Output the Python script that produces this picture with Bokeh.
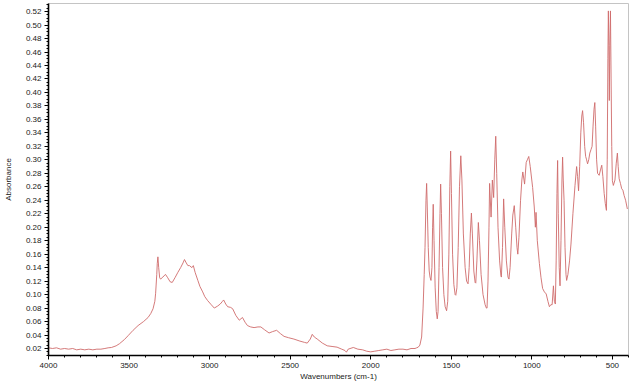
from bokeh.plotting import figure
from bokeh.models import Range1d, SingleIntervalTicker, NumeralTickFormatter, ColumnDataSource
from bokeh.embed import file_html
from bokeh.resources import INLINE

# --- spectrum values (wavenumber cm-1, absorbance) ---
wn_baseline = [4000, 3975, 3950, 3925, 3900, 3875, 3850, 3825, 3800, 3775, 3750, 3725,
               3700, 3675, 3650, 3630, 3609]
ab_baseline = [0.021, 0.020, 0.021, 0.019, 0.020, 0.019, 0.020, 0.018, 0.019, 0.018, 0.019, 0.018,
               0.019, 0.019, 0.020, 0.021, 0.0215]

wn_oh = [3580, 3560, 3530, 3506, 3475, 3444, 3410, 3382, 3365, 3351, 3340, 3335, 3328,
         3325, 3321, 3316, 3310, 3304, 3290, 3274, 3260, 3245, 3232, 3215, 3197, 3180,
         3165, 3156, 3145, 3135, 3125, 3110, 3101, 3090, 3073, 3060, 3043, 3030, 3012,
         2990, 2971, 2950, 2934, 2920, 2913, 2900, 2888, 2870, 2857, 2837, 2816, 2796,
         2780, 2765, 2745, 2724, 2700, 2682, 2660, 2631, 2610, 2584, 2560, 2538, 2510,
         2477, 2440, 2410, 2394, 2375, 2363, 2350, 2332, 2300, 2270, 2240, 2209, 2180,
         2160, 2151, 2140, 2108, 2080]
ab_oh = [0.024, 0.027, 0.033, 0.039, 0.047, 0.054, 0.060, 0.066, 0.072, 0.079, 0.090, 0.102, 0.130,
         0.146, 0.156, 0.140, 0.125, 0.123, 0.126, 0.130, 0.125, 0.119, 0.118, 0.125, 0.133, 0.140,
         0.147, 0.152, 0.147, 0.143, 0.143, 0.140, 0.143, 0.133, 0.121, 0.112, 0.104, 0.097, 0.091,
         0.085, 0.080, 0.083, 0.086, 0.090, 0.092, 0.086, 0.082, 0.081, 0.079, 0.069, 0.062, 0.066,
         0.059, 0.054, 0.052, 0.051, 0.052, 0.052, 0.048, 0.043, 0.045, 0.047, 0.042, 0.038, 0.036,
         0.034, 0.031, 0.029, 0.028, 0.034, 0.041, 0.037, 0.034, 0.028, 0.024, 0.023, 0.022, 0.019,
         0.017, 0.0145, 0.019, 0.0215, 0.019]

wn_gap = [2050, 2025, 2000, 1975, 1950, 1925, 1900, 1875, 1850, 1825, 1800, 1775, 1750,
          1725, 1715, 1705, 1695]
ab_gap = [0.018, 0.016, 0.015, 0.016, 0.017, 0.018, 0.019, 0.017, 0.018, 0.019, 0.019, 0.018, 0.020,
          0.020, 0.021, 0.022, 0.025]

wn_finger = [1684, 1675, 1668, 1663, 1657, 1653, 1649, 1643, 1637, 1632, 1626, 1620, 1616,
             1612, 1607, 1600, 1593, 1587, 1582, 1576, 1570, 1566, 1561, 1554, 1546, 1538,
             1529, 1522, 1515, 1509, 1504, 1499, 1492, 1484, 1476, 1472, 1465, 1457, 1449,
             1441, 1434, 1425, 1414, 1405, 1396, 1389, 1382, 1375, 1369, 1360, 1352, 1348,
             1341, 1332, 1325, 1315, 1303, 1290, 1282, 1278, 1272, 1266, 1262, 1253, 1245,
             1237, 1230, 1224, 1218, 1210, 1200, 1192, 1189, 1182, 1175, 1168, 1158, 1148,
             1142, 1135, 1125, 1118, 1109, 1100, 1092, 1087, 1080, 1070, 1062, 1056, 1045,
             1035, 1028, 1019, 1010, 995, 985, 978, 974, 966, 953, 943, 933, 922, 911, 900,
             891, 882, 874, 866, 860, 854, 849, 844, 840, 836, 830, 825, 819, 813, 809, 805,
             800, 794, 788, 784, 776, 766, 757, 745, 732, 722, 716, 710, 703, 696, 690, 685,
             679, 672, 666, 661, 654, 647, 640, 633, 626, 620, 614, 609, 604, 598, 592, 582,
             574, 566, 559, 551, 544, 537, 532, 528, 525, 522, 519, 516, 512, 508, 504, 500,
             494, 484, 476, 469, 464, 458, 450, 442, 435, 427, 418, 407]
ab_finger = [0.037, 0.080, 0.130, 0.170, 0.240, 0.265, 0.230, 0.170, 0.135, 0.126, 0.121, 0.140, 0.200,
             0.234, 0.180, 0.110, 0.075, 0.064, 0.075, 0.140, 0.220, 0.264, 0.220, 0.140, 0.100, 0.082,
             0.076, 0.090, 0.160, 0.260, 0.313, 0.250, 0.160, 0.115, 0.100, 0.099, 0.110, 0.170, 0.260,
             0.306, 0.270, 0.190, 0.140, 0.120, 0.116, 0.140, 0.190, 0.221, 0.190, 0.135, 0.118, 0.117,
             0.150, 0.207, 0.180, 0.130, 0.100, 0.085, 0.080, 0.080, 0.120, 0.200, 0.265, 0.215, 0.270,
             0.244, 0.300, 0.335, 0.280, 0.200, 0.150, 0.128, 0.126, 0.170, 0.242, 0.200, 0.150, 0.126,
             0.123, 0.140, 0.190, 0.218, 0.232, 0.200, 0.170, 0.160, 0.185, 0.240, 0.270, 0.282, 0.264,
             0.296, 0.300, 0.305, 0.290, 0.259, 0.230, 0.200, 0.222, 0.180, 0.146, 0.125, 0.109, 0.104, 0.101, 0.090,
             0.082, 0.085, 0.085, 0.113, 0.090, 0.086, 0.150, 0.250, 0.299, 0.220, 0.140, 0.113, 0.180, 0.270, 0.304, 0.270,
             0.240, 0.170, 0.130, 0.121, 0.130, 0.150, 0.175, 0.220, 0.262, 0.290, 0.275, 0.254, 0.290, 0.340, 0.365, 0.373,
             0.355, 0.320, 0.305, 0.301, 0.294, 0.300, 0.310, 0.315, 0.320, 0.350, 0.375, 0.385, 0.350, 0.300, 0.280, 0.277,
             0.285, 0.292, 0.275, 0.250, 0.235, 0.225, 0.300, 0.450, 0.521, 0.470, 0.388, 0.470, 0.521, 0.420, 0.320, 0.269,
             0.262, 0.270, 0.295, 0.310, 0.290, 0.272, 0.265, 0.257, 0.255, 0.247, 0.240, 0.227]

x_ticks_interval = 500
y_ticks_interval = 0.02

wavenumber = wn_baseline + wn_oh + wn_gap + wn_finger
absorbance = ab_baseline + ab_oh + ab_gap + ab_finger
src = ColumnDataSource(data=dict(x=wavenumber, y=absorbance))

p = figure(width=631, height=383, output_backend="svg", toolbar_location=None,
           x_range=Range1d(4000, 400), y_range=Range1d(0.0096, 0.532),
           min_border_left=47, min_border_right=3, min_border_top=3, min_border_bottom=0,
           background_fill_color="white", border_fill_color="white")

p.line("x", "y", source=src, line_color="#cf6b6b", line_width=0.9)

p.xgrid.visible = False
p.ygrid.visible = False
p.outline_line_color = "#c4c4c4"
p.outline_line_width = 1

p.xaxis.ticker = SingleIntervalTicker(interval=x_ticks_interval, num_minor_ticks=5)
p.yaxis.ticker = SingleIntervalTicker(interval=y_ticks_interval, num_minor_ticks=4)
p.yaxis.formatter = NumeralTickFormatter(format="0.00")
p.xaxis.formatter = NumeralTickFormatter(format="0")

p.xaxis.axis_label = "Wavenumbers (cm-1)"
p.yaxis.axis_label = "Absorbance"

for ax in (p.xaxis, p.yaxis):
    ax.axis_line_color = "black"
    ax.axis_line_width = 1.6
    ax.major_tick_line_color = "black"
    ax.minor_tick_line_color = "black"
    ax.major_tick_out = 4
    ax.major_tick_in = 0
    ax.minor_tick_out = 2
    ax.minor_tick_in = 0
    ax.major_label_text_font = "Liberation Sans"
    ax.major_label_text_font_size = "8px"
    ax.major_label_text_color = "#222222"
    ax.axis_label_text_font = "Liberation Sans"
    ax.axis_label_text_font_size = "8px"
    ax.axis_label_text_font_style = "normal"
    ax.axis_label_text_color = "#222222"

p.yaxis.major_label_standoff = 3
p.yaxis.axis_label_standoff = 10
p.xaxis.major_label_standoff = 3
p.xaxis.axis_label_standoff = 1

open("out.html", "w").write(file_html(p, INLINE))
